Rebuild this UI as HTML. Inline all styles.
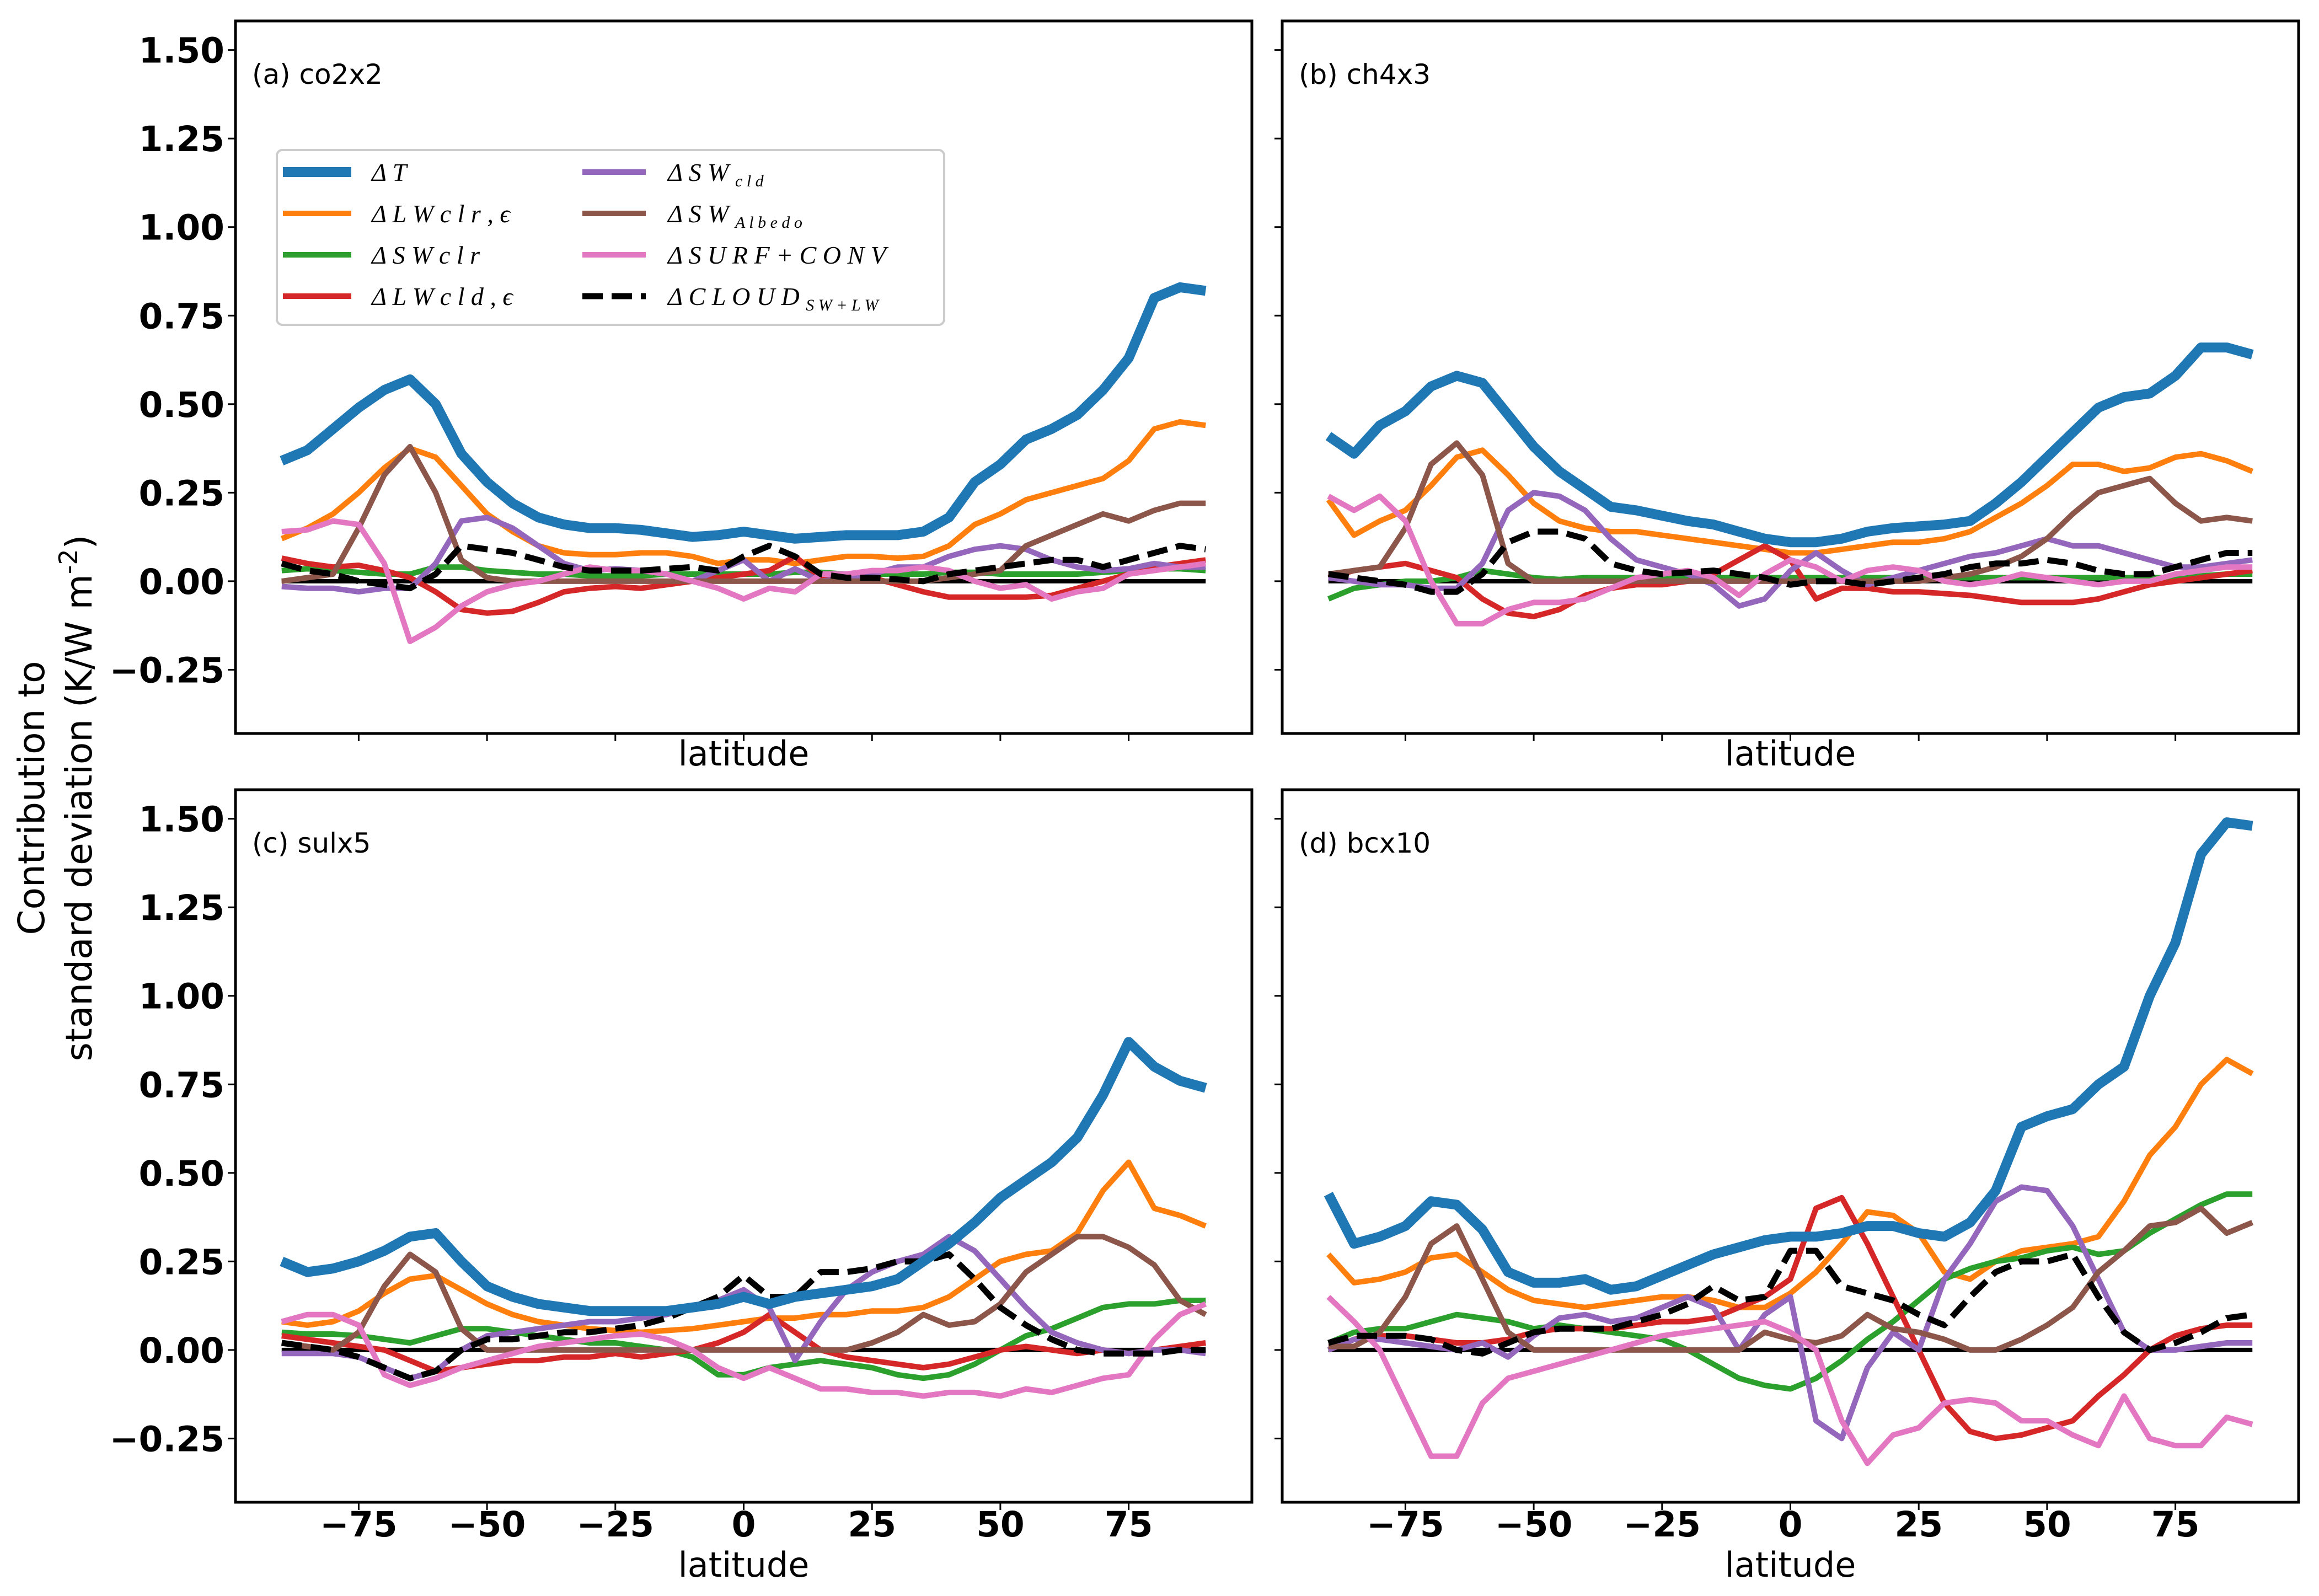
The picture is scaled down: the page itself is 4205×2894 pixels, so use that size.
<!DOCTYPE html>
<html><head><meta charset="utf-8">
<style>
html,body{margin:0;padding:0;background:#fff;}
svg{display:block;}
</style></head>
<body>
<svg id="fig" width="4205" height="2894" viewBox="0 0 4205 2894" xmlns="http://www.w3.org/2000/svg" font-family="DejaVu Sans, Liberation Sans, sans-serif">
<rect width="4205" height="2894" fill="#fff"/>
<text transform="translate(90,1447) rotate(-90)" text-anchor="middle" font-size="66"><tspan x="0" dy="-10">Contribution to</tspan><tspan x="0" dy="86">standard deviation (K/W m</tspan><tspan font-size="46" dy="-26">-2</tspan><tspan dy="26">)</tspan></text>
</svg>
<script>
const lats = [-90,-85,-80,-75,-70,-65,-60,-55,-50,-45,-40,-35,-30,-25,-20,-15,-10,-5,0,5,10,15,20,25,30,35,40,45,50,55,60,65,70,75,80,85,90];
const seriesNames = ["dT","LWclr","SWclr","LWcld","SWcld","SWalb","SURF","CLOUD"];
const panelTitles = ["(a) co2x2","(b) ch4x3","(c) sulx5","(d) bcx10"];
const yTickLabels = ["\u22120.25","0.00","0.25","0.50","0.75","1.00","1.25","1.50"];
const yTickValues = [-0.25,0,0.25,0.5,0.75,1.0,1.25,1.5];
const xTickLabels = ["\u221275","\u221250","\u221225","0","25","50","75"];
const xTickValues = [-75,-50,-25,0,25,50,75];

const a_dT=[0.34,0.37,0.43,0.49,0.54,0.57,0.5,0.36,0.28,0.22,0.18,0.16,0.15,0.15,0.145,0.135,0.125,0.13,0.14,0.13,0.12,0.125,0.13,0.13,0.13,0.14,0.18,0.28,0.33,0.40,0.43,0.47,0.54,0.63,0.80,0.83,0.82];
const a_LWclr=[0.12,0.15,0.19,0.25,0.32,0.375,0.35,0.27,0.19,0.14,0.10,0.08,0.075,0.075,0.08,0.08,0.07,0.05,0.06,0.06,0.05,0.06,0.07,0.07,0.065,0.07,0.10,0.16,0.19,0.23,0.25,0.27,0.29,0.34,0.43,0.45,0.44];
const a_SWclr=[0.03,0.035,0.03,0.025,0.02,0.02,0.04,0.04,0.03,0.025,0.02,0.02,0.015,0.015,0.015,0.02,0.02,0.02,0.02,0.02,0.025,0.025,0.02,0.02,0.02,0.02,0.025,0.025,0.02,0.02,0.02,0.02,0.025,0.03,0.035,0.035,0.03];
const a_LWcld=[0.065,0.05,0.04,0.045,0.03,0.01,-0.03,-0.08,-0.09,-0.085,-0.06,-0.03,-0.02,-0.015,-0.02,-0.01,0,0.01,0.02,0.03,0.07,0.01,0.01,0.01,-0.01,-0.03,-0.045,-0.045,-0.045,-0.045,-0.04,-0.02,0.0,0.02,0.04,0.05,0.06];
const a_SWcld=[-0.015,-0.02,-0.02,-0.03,-0.02,-0.02,0.05,0.17,0.18,0.15,0.10,0.05,0.03,0.035,0.03,0.02,0.0,0.03,0.06,0.0,0.035,0.0,0.01,0.02,0.04,0.04,0.07,0.09,0.1,0.09,0.06,0.04,0.03,0.035,0.05,0.04,0.04];
const a_SWalb=[0.0,0.01,0.02,0.15,0.30,0.38,0.25,0.06,0.01,0.0,0.0,0.0,0.0,0.0,0.0,0.0,0.0,0.0,0.0,0.0,0.0,0.0,0.0,0.0,0.0,0.0,0.01,0.02,0.03,0.10,0.13,0.16,0.19,0.17,0.20,0.22,0.22];
const a_SURF=[0.14,0.145,0.17,0.16,0.05,-0.17,-0.13,-0.07,-0.03,-0.01,0.0,0.02,0.04,0.03,0.03,0.02,0.0,-0.02,-0.05,-0.02,-0.03,0.02,0.02,0.03,0.03,0.04,0.03,0.0,-0.02,-0.01,-0.05,-0.03,-0.02,0.02,0.03,0.04,0.05];
const a_CLOUD=[0.05,0.03,0.02,0.0,-0.01,-0.02,0.02,0.1,0.09,0.08,0.06,0.04,0.03,0.03,0.03,0.035,0.04,0.03,0.07,0.1,0.07,0.02,0.01,0.01,0.005,0.0,0.02,0.03,0.04,0.05,0.06,0.06,0.04,0.06,0.08,0.1,0.09];

const b_dT=[0.41,0.36,0.44,0.48,0.55,0.58,0.56,0.47,0.38,0.31,0.26,0.21,0.2,0.185,0.17,0.16,0.14,0.12,0.11,0.11,0.12,0.14,0.15,0.155,0.16,0.17,0.22,0.28,0.35,0.42,0.49,0.52,0.53,0.58,0.66,0.66,0.64];
const b_LWclr=[0.23,0.13,0.17,0.2,0.27,0.35,0.37,0.30,0.22,0.17,0.15,0.14,0.14,0.13,0.12,0.11,0.10,0.09,0.08,0.08,0.09,0.1,0.11,0.11,0.12,0.14,0.18,0.22,0.27,0.33,0.33,0.31,0.32,0.35,0.36,0.34,0.31];
const b_SWclr=[-0.05,-0.02,-0.01,0.0,0.0,0.01,0.03,0.02,0.01,0.005,0.01,0.01,0.01,0.01,0.01,0.01,0.01,0.01,0.01,0.01,0.01,0.01,0.01,0.01,0.01,0.01,0.01,0.01,0.01,0.01,0.01,0.01,0.01,0.01,0.015,0.02,0.02];
const b_LWcld=[0.01,0.03,0.04,0.05,0.03,0.01,-0.05,-0.09,-0.1,-0.08,-0.04,-0.02,-0.01,-0.01,0.0,0.02,0.06,0.1,0.06,-0.05,-0.02,-0.02,-0.03,-0.03,-0.035,-0.04,-0.05,-0.06,-0.06,-0.06,-0.05,-0.03,-0.01,0.0,0.01,0.02,0.03];
const b_SWcld=[0.01,0.0,-0.01,-0.01,-0.02,-0.02,0.05,0.2,0.25,0.24,0.2,0.12,0.06,0.04,0.02,-0.01,-0.07,-0.05,0.03,0.08,0.03,-0.01,0.01,0.03,0.05,0.07,0.08,0.1,0.12,0.1,0.1,0.08,0.06,0.04,0.04,0.05,0.06];
const b_SWalb=[0.02,0.03,0.04,0.15,0.33,0.39,0.3,0.05,0.0,0.0,0.0,0.0,0.0,0.0,0.0,0.0,0.0,0.0,0.0,0.0,0.0,0.0,0.0,0.0,0.01,0.02,0.04,0.07,0.12,0.19,0.25,0.27,0.29,0.22,0.17,0.18,0.17];
const b_SURF=[0.24,0.2,0.24,0.17,0.0,-0.12,-0.12,-0.08,-0.06,-0.06,-0.05,-0.02,0.01,0.02,0.03,0.01,-0.04,0.02,0.06,0.04,0.0,0.03,0.04,0.03,0.0,-0.01,0.0,0.02,0.01,0.0,-0.01,0.0,0.0,0.02,0.03,0.04,0.04];
const b_CLOUD=[0.02,0.01,0.0,-0.01,-0.03,-0.03,0.02,0.11,0.14,0.14,0.12,0.05,0.03,0.02,0.025,0.03,0.02,0.01,-0.01,0.0,0.0,-0.01,0.0,0.01,0.02,0.04,0.05,0.05,0.06,0.05,0.03,0.02,0.02,0.04,0.06,0.08,0.08];

const c_dT=[0.25,0.22,0.23,0.25,0.28,0.32,0.33,0.25,0.18,0.15,0.13,0.12,0.11,0.11,0.11,0.11,0.12,0.13,0.15,0.13,0.15,0.16,0.17,0.18,0.2,0.25,0.3,0.36,0.43,0.48,0.53,0.6,0.72,0.87,0.8,0.76,0.74];
const c_LWclr=[0.08,0.07,0.08,0.11,0.16,0.2,0.21,0.17,0.13,0.10,0.08,0.07,0.06,0.055,0.05,0.055,0.06,0.07,0.08,0.09,0.09,0.1,0.1,0.11,0.11,0.12,0.15,0.2,0.25,0.27,0.28,0.33,0.45,0.53,0.4,0.38,0.35];
const c_SWclr=[0.05,0.045,0.045,0.04,0.03,0.02,0.04,0.06,0.06,0.05,0.04,0.03,0.02,0.02,0.01,0.0,-0.02,-0.07,-0.07,-0.05,-0.04,-0.03,-0.04,-0.05,-0.07,-0.08,-0.07,-0.04,0.0,0.04,0.06,0.09,0.12,0.13,0.13,0.14,0.14];
const c_LWcld=[0.04,0.03,0.02,0.01,0.0,-0.03,-0.06,-0.05,-0.04,-0.03,-0.03,-0.02,-0.02,-0.01,-0.02,-0.01,0.0,0.02,0.05,0.1,0.05,0.0,-0.02,-0.03,-0.04,-0.05,-0.04,-0.02,0.0,0.01,0.0,-0.01,0.0,-0.01,0.0,0.01,0.02];
const c_SWcld=[-0.01,-0.01,-0.01,-0.02,-0.05,-0.08,-0.06,0.0,0.04,0.05,0.06,0.07,0.08,0.08,0.09,0.1,0.12,0.14,0.17,0.12,-0.03,0.08,0.17,0.22,0.25,0.27,0.32,0.28,0.2,0.12,0.05,0.02,0.0,-0.01,0.0,0.0,-0.01];
const c_SWalb=[0.02,0.01,0.0,0.05,0.18,0.27,0.22,0.06,0.0,0.0,0.0,0.0,0.0,0.0,0.0,0.0,0.0,0.0,0.0,0.0,0.0,0.0,0.0,0.02,0.05,0.1,0.07,0.08,0.13,0.22,0.27,0.32,0.32,0.29,0.24,0.14,0.1];
const c_SURF=[0.08,0.1,0.1,0.07,-0.07,-0.1,-0.08,-0.05,-0.03,-0.01,0.01,0.02,0.03,0.04,0.045,0.03,0.0,-0.05,-0.08,-0.05,-0.08,-0.11,-0.11,-0.12,-0.12,-0.13,-0.12,-0.12,-0.13,-0.11,-0.12,-0.1,-0.08,-0.07,0.03,0.1,0.13];
const c_CLOUD=[0.02,0.01,0.0,-0.02,-0.05,-0.08,-0.06,0.0,0.03,0.03,0.04,0.05,0.05,0.06,0.07,0.09,0.12,0.15,0.21,0.15,0.15,0.22,0.22,0.23,0.25,0.25,0.27,0.2,0.12,0.07,0.03,0.0,-0.01,-0.01,-0.01,0.0,0.0];

const d_dT=[0.44,0.30,0.32,0.35,0.42,0.41,0.34,0.22,0.19,0.19,0.2,0.17,0.18,0.21,0.24,0.27,0.29,0.31,0.32,0.32,0.33,0.35,0.35,0.33,0.32,0.36,0.45,0.63,0.66,0.68,0.75,0.8,1.0,1.15,1.4,1.49,1.48];
const d_LWclr=[0.27,0.19,0.2,0.22,0.26,0.27,0.22,0.17,0.14,0.13,0.12,0.13,0.14,0.15,0.15,0.14,0.12,0.12,0.16,0.22,0.3,0.39,0.38,0.33,0.22,0.2,0.25,0.28,0.29,0.3,0.32,0.42,0.55,0.63,0.75,0.82,0.78];
const d_SWclr=[0.02,0.05,0.06,0.06,0.08,0.1,0.09,0.08,0.06,0.07,0.06,0.05,0.04,0.03,0.0,-0.04,-0.08,-0.1,-0.11,-0.08,-0.03,0.03,0.08,0.14,0.2,0.23,0.25,0.26,0.28,0.29,0.27,0.28,0.33,0.37,0.41,0.44,0.44];
const d_LWcld=[0.0,0.03,0.04,0.04,0.03,0.02,0.02,0.03,0.05,0.06,0.06,0.06,0.07,0.08,0.08,0.09,0.12,0.15,0.2,0.4,0.43,0.3,0.15,0.0,-0.15,-0.23,-0.25,-0.24,-0.22,-0.2,-0.13,-0.07,0.0,0.04,0.06,0.07,0.07];
const d_SWcld=[0.0,0.03,0.03,0.02,0.01,0.0,0.02,-0.02,0.04,0.09,0.1,0.08,0.09,0.12,0.15,0.12,0.0,0.1,0.15,-0.2,-0.25,-0.05,0.05,0.0,0.2,0.3,0.42,0.46,0.45,0.35,0.2,0.05,0.0,0.0,0.01,0.02,0.02];
const d_SWalb=[0.01,0.01,0.05,0.15,0.3,0.35,0.2,0.05,0.0,0.0,0.0,0.0,0.0,0.0,0.0,0.0,0.0,0.05,0.03,0.02,0.04,0.1,0.06,0.05,0.03,0.0,0.0,0.03,0.07,0.12,0.22,0.28,0.35,0.36,0.4,0.33,0.36];
const d_SURF=[0.15,0.08,0.0,-0.15,-0.3,-0.3,-0.15,-0.08,-0.06,-0.04,-0.02,0.0,0.02,0.04,0.05,0.06,0.07,0.08,0.05,0.0,-0.2,-0.32,-0.24,-0.22,-0.15,-0.14,-0.15,-0.2,-0.2,-0.24,-0.27,-0.13,-0.25,-0.27,-0.27,-0.19,-0.21];
const d_CLOUD=[0.02,0.04,0.04,0.04,0.03,0.0,-0.01,0.02,0.05,0.06,0.06,0.06,0.08,0.1,0.13,0.18,0.14,0.15,0.28,0.28,0.18,0.16,0.14,0.1,0.07,0.15,0.22,0.25,0.25,0.27,0.15,0.05,0.0,0.02,0.05,0.09,0.1];

const NS="http://www.w3.org/2000/svg";
const svg=document.getElementById('fig');
function mk(tag,attrs,parent){const e=document.createElementNS(NS,tag);for(const k in attrs)e.setAttribute(k,attrs[k]);(parent||svg).appendChild(e);return e;}

const panelsData=[
 [a_dT,a_LWclr,a_SWclr,a_LWcld,a_SWcld,a_SWalb,a_SURF,a_CLOUD],
 [b_dT,b_LWclr,b_SWclr,b_LWcld,b_SWcld,b_SWalb,b_SURF,b_CLOUD],
 [c_dT,c_LWclr,c_SWclr,c_LWcld,c_SWcld,c_SWalb,c_SURF,c_CLOUD],
 [d_dT,d_LWclr,d_SWclr,d_LWcld,d_SWcld,d_SWalb,d_SURF,d_CLOUD]];
const colors=["#1f77b4","#ff7f0e","#2ca02c","#d62728","#9467bd","#8c564b","#e377c2","#000000"];
const widths=[18,10,10,10,10,10,10,11];
const drawOrder=[1,2,3,4,5,6,7,0];
const boxes=[{x:427,y:38},{x:2325,y:38},{x:427,y:1432},{x:2325,y:1432}];
const W=1843,H=1292,XMIN=-99,XMAX=99,YMIN=-0.43,YMAX=1.582;

boxes.forEach((b,pi)=>{
  const g=mk('g',{});
  
  
  const xs=v=>b.x+(v-XMIN)/(XMAX-XMIN)*W;
  const ys=v=>b.y+(YMAX-v)/(YMAX-YMIN)*H;
  const cid='clip'+pi;
  const cp=mk('clipPath',{id:cid},g);mk('rect',{x:b.x,y:b.y,width:W,height:H},cp);
  const lg=mk('g',{'clip-path':'url(#'+cid+')'},g);
  const zl=mk('line',{x1:xs(-90),x2:xs(90),y1:ys(0),y2:ys(0),stroke:'#000','stroke-width':8},lg);
  
  
  drawOrder.forEach(si=>{
    const vals=panelsData[pi][si];
    const d=vals.map((v,i)=>(i?'L':'M')+xs(lats[i]).toFixed(1)+','+ys(v).toFixed(1)).join(' ');
    const p=mk('path',{d:d,fill:'none',stroke:colors[si],'stroke-width':widths[si],'stroke-linejoin':'round'},lg);
    if(si===7)p.setAttribute('stroke-dasharray','37,16');
    
    
  });
  const fr=mk('rect',{x:b.x,y:b.y,width:W,height:H,fill:'none',stroke:'#000','stroke-width':5},g);
  
  
  xTickValues.forEach((v,i)=>{
    mk('line',{x1:xs(v),x2:xs(v),y1:b.y+H,y2:b.y+H+14,stroke:'#000','stroke-width':3},g);
    if(pi>=2){const t=mk('text',{x:xs(v),y:b.y+H+62,'text-anchor':'middle','font-size':63,'font-weight':'bold'},g);t.textContent=xTickLabels[i];
      
      }
  });
  yTickValues.forEach((v,i)=>{
    mk('line',{x1:b.x-14,x2:b.x,y1:ys(v),y2:ys(v),stroke:'#000','stroke-width':3},g);
    if(pi%2===0){const t=mk('text',{x:b.x-20,y:ys(v)+23,'text-anchor':'end','font-size':63,'font-weight':'bold'},g);t.textContent=yTickLabels[i];
      
      }
  });
  const xl=mk('text',{x:b.x+W/2,y:pi<2?b.y+H+58:b.y+H+135,'text-anchor':'middle','font-size':62},g);
  xl.textContent='latitude';
  
  
  const tt=mk('text',{x:b.x+30,y:b.y+114,'font-size':50},g);
  tt.textContent=panelTitles[pi];
  
  
});

// legend
const leg=mk('g',{});


mk('rect',{x:502,y:272,width:1210,height:317,rx:10,fill:'#fff','fill-opacity':0.85,stroke:'#ccc','stroke-width':4},leg);
const legendLabels=[
 ['\u0394 T',''],['\u0394 L W  c l r ,  \u03f5',''],['\u0394 S W  c l r',''],['\u0394 L W  c l d ,  \u03f5',''],
 ['\u0394 S W ','c l d'],['\u0394 S W ','A l b e d o'],['\u0394 S U R F  +  C O N V',''],['\u0394 C L O U D ','S W + L W']];
const rowsY=[312,387,462,537];
for(let k=0;k<8;k++){
  const col=k<4?0:1,row=k%4,si=k;
  const hx=col?1056:513,tx=col?1211:674,y=rowsY[row];
  const ln=mk('line',{x1:hx,x2:hx+(col?115:124),y1:y,y2:y,stroke:colors[si],'stroke-width':widths[si]},leg);
  if(si===7)ln.setAttribute('stroke-dasharray','37,16');
  
  
  const t=mk('text',{x:tx,y:y+16,'font-size':46,'font-style':'italic','font-family':'Liberation Serif, serif','xml:space':'preserve'},leg);
  
  
  const s1=mk('tspan',{},t);s1.textContent=legendLabels[k][0];
  if(legendLabels[k][1]){const s2=mk('tspan',{'font-size':30,dy:10},t);s2.textContent=' '+legendLabels[k][1];}
}
</script>
</body></html>
